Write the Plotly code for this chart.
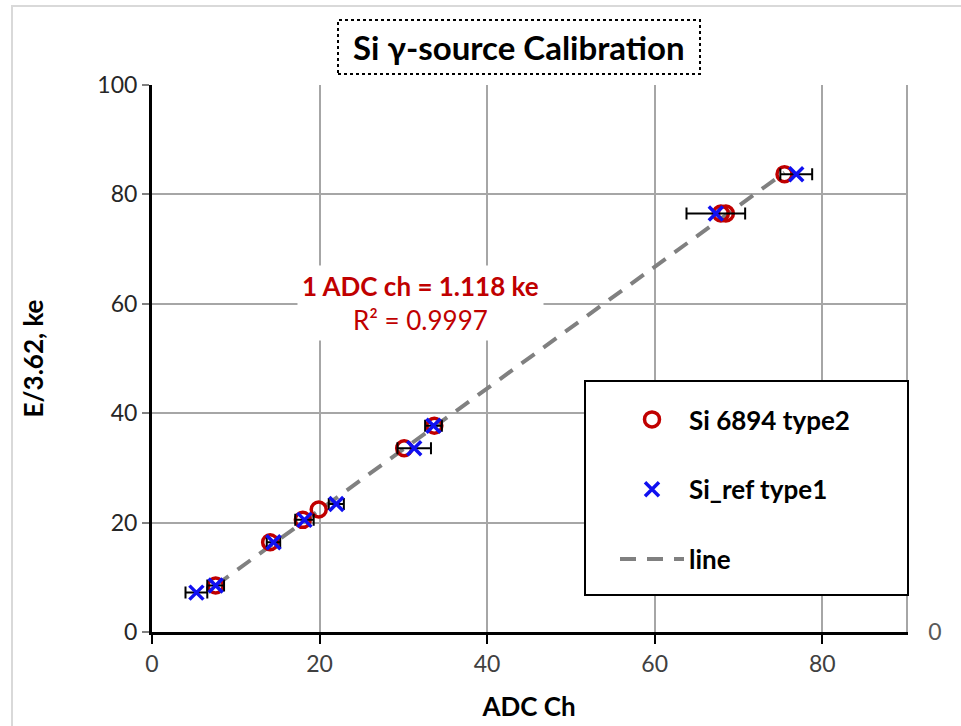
import plotly.graph_objects as go

# ---- data ----
red_name = "Si 6894 type2"
red_x = [7.6, 14.1, 18.0, 19.9, 30.1, 33.7, 67.9, 68.5, 75.5]
red_y = [8.5, 16.4, 20.5, 22.4, 33.6, 37.7, 76.5, 76.5, 83.7]

blue_name = "Si_ref type1"
blue_x = [5.3, 7.6, 14.5, 18.2, 22.0, 31.3, 33.6, 67.3, 76.9]
blue_y = [7.2, 8.5, 16.4, 20.5, 23.4, 33.6, 37.7, 76.5, 83.7]
blue_err = [1.3, 1.0, 0.8, 1.1, 0.9, 2.0, 1.0, 3.5, 1.9]

line_name = "line"
line_x = [7.6, 75.5]
line_y = [8.5, 84.0]

x_ticks = [0, 20, 40, 60, 80]
y_ticks = [0, 20, 40, 60, 80, 100]

title_text = "Si γ-source Calibration"
fit_text = "<b>1 ADC ch = 1.118 ke</b><br>R² = 0.9997"

FONT = "Lato"
RED = "#C00000"
BLUE = "#1010F0"

fig = go.Figure()
fig.add_trace(go.Scatter(
    x=line_x, y=line_y, mode="lines", name=line_name,
    line=dict(color="#808080", width=4, dash="16px,11px"),
    legendrank=3, legendgroup="c"))
fig.add_trace(go.Scatter(
    x=red_x, y=red_y, mode="markers", name=red_name,
    marker=dict(symbol="circle-open", size=15, color=RED, line=dict(width=3.5, color=RED)),
    legendrank=1, legendgroup="a"))
fig.add_trace(go.Scatter(
    x=blue_x, y=blue_y, mode="markers", name=blue_name,
    marker=dict(symbol="x-thin-open", size=14, color=BLUE, line=dict(width=3.5, color=BLUE)),
    error_x=dict(type="data", array=blue_err, color="black", thickness=2, width=6),
    legendrank=2, legendgroup="b"))

# secondary right axis (just a single 0 label and a grey edge line)
fig.add_trace(go.Scatter(x=[None], y=[None], yaxis="y2", showlegend=False, hoverinfo="skip"))

w_plot = 961 - 152 - 55
h_plot = 726 - 85 - 94

def px_x(p):
    return (p - 152) / w_plot

def px_y(p):
    return (632 - p) / h_plot

fig.update_layout(
    width=961, height=726,
    margin=dict(l=152, r=55, t=85, b=94, autoexpand=False),
    paper_bgcolor="white", plot_bgcolor="white",
    font=dict(family=FONT, color="#262626"),
    showlegend=True,
    legend=dict(
        x=px_x(615), y=px_y(396), xanchor="left", yanchor="top",
        bgcolor="rgba(0,0,0,0)", borderwidth=0,
        font=dict(family=FONT, size=26, color="black", weight="bold"),
        tracegroupgap=33, itemwidth=64,
        traceorder="grouped",
    ),
    xaxis=dict(
        range=[0, 90], tickvals=x_ticks, showgrid=True, gridcolor="#A6A6A6", gridwidth=1.5,
        showline=True, linecolor="black", linewidth=3, ticks="outside", ticklen=9,
        tickcolor="black", tickwidth=2, zeroline=False, automargin=False,
        tickfont=dict(family=FONT, size=23, color="#404040"),
        title=dict(text="<b>ADC Ch</b>", font=dict(family=FONT, size=26, color="black"), standoff=23),
    ),
    yaxis=dict(
        range=[0, 100], tickvals=y_ticks, showgrid=True, gridcolor="#A6A6A6", gridwidth=1.5,
        showline=True, linecolor="black", linewidth=3, ticks="outside", ticklen=7,
        tickcolor="#808080", tickwidth=2, zeroline=False, automargin=False,
        tickfont=dict(family=FONT, size=23, color="#262626"),
        title=dict(text="<b>E/3.62, ke</b>", font=dict(family=FONT, size=26, color="black"), standoff=47),
    ),
    yaxis2=dict(
        overlaying="y", side="right", range=[0, 100], tickvals=[0], ticktext=["0"],
        showgrid=False, zeroline=False, showline=True, linecolor="#A6A6A6", linewidth=1.5,
        ticks="outside", ticklen=16, tickcolor="rgba(0,0,0,0)", automargin=False,
        tickfont=dict(family=FONT, size=23, color="#595959"),
    ),
    annotations=[
        dict(x=32.1, y=60.2, xref="x", yref="y", text=fit_text, showarrow=False,
             font=dict(family=FONT, size=26, color=RED), bgcolor="white",
             borderpad=4, align="center"),
        dict(x=px_x(519), y=px_y(47), xref="paper", yref="paper", text="<b>" + title_text + "</b>",
             showarrow=False, font=dict(family=FONT, size=33, color="black"),
             xanchor="center", yanchor="middle"),
    ],
    shapes=[
        # title dotted box
        dict(type="rect", xref="paper", yref="paper",
             x0=px_x(338), x1=px_x(700), y0=px_y(74), y1=px_y(20),
             line=dict(color="black", width=2, dash="dot"), fillcolor="rgba(0,0,0,0)"),
        # legend box
        dict(type="rect", xref="paper", yref="paper",
             x0=px_x(585), x1=px_x(908), y0=px_y(595), y1=px_y(381),
             line=dict(color="black", width=2), fillcolor="white", layer="above"),
        # outer chart border
        dict(type="rect", xref="paper", yref="paper",
             x0=px_x(12), x1=px_x(975), y0=px_y(740), y1=px_y(6),
             line=dict(color="#D9D9D9", width=2), fillcolor="rgba(0,0,0,0)"),
    ],
)

fig.write_html("out.html")
